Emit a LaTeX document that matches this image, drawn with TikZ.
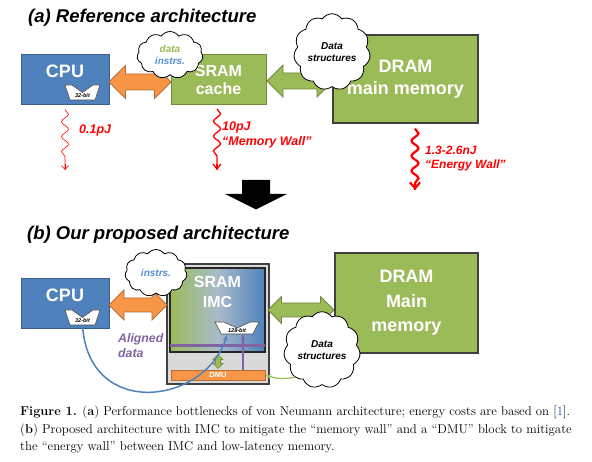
\documentclass[tikz,border=0pt]{standalone}
\usepackage{fontspec}
\setsansfont{Liberation Sans}
\usepackage{xcolor}
\usetikzlibrary{shapes.geometric, shapes.symbols, arrows.meta, decorations.pathmorphing, positioning}

\definecolor{cpublue}{HTML}{4F81BD}
\definecolor{cpuedge}{HTML}{385D8A}
\definecolor{memgreen}{HTML}{9BBB59}
\definecolor{memedge}{HTML}{71893F}
\definecolor{busorange}{HTML}{F79646}
\definecolor{busedge}{HTML}{B66D31}
\definecolor{wallred}{HTML}{FF0000}
\definecolor{alignpurple}{HTML}{8064A2}
\definecolor{instrblue}{HTML}{558ED5}
\definecolor{imcgray}{HTML}{D9D9D9}
\definecolor{imcmid}{HTML}{A9BBC9}
\definecolor{citeblue}{HTML}{1F4FD0}

\tikzstyle{title} = [anchor=west, inner sep=0pt, font=\sffamily\bfseries\itshape\fontsize{18.5}{22}\selectfont]
\tikzstyle{cpubox} = [rectangle, draw=cpuedge, fill=cpublue, line width=1pt, minimum width=88pt, minimum height=50pt]
\tikzstyle{unitname} = [text=white, inner sep=0pt, align=center, font=\sffamily\bfseries\fontsize{18}{22}\selectfont]
\tikzstyle{srambox} = [rectangle, draw=memedge, fill=memgreen, line width=1pt, text=white, align=center, font=\sffamily\bfseries\fontsize{16}{18}\selectfont]
\tikzstyle{drambox} = [rectangle, draw=black!75, fill=memgreen, line width=1.2pt, text=white, align=center, font=\sffamily\bfseries\fontsize{18}{22}\selectfont]
\tikzstyle{imcwrap} = [rectangle, draw=black!75, fill=imcgray, line width=1.2pt, minimum width=102pt, minimum height=120pt]
\tikzstyle{imcbox} = [rectangle, draw=black!85, line width=1.2pt, left color=memgreen, right color=cpublue, middle color=imcmid, minimum width=95pt, minimum height=84pt]
\tikzstyle{dmubox} = [rectangle, draw=busedge, fill=busorange, line width=0.6pt, minimum width=94pt, minimum height=10pt, inner sep=0pt, text=white, font=\sffamily\bfseries\fontsize{7.5}{8}\selectfont]
\tikzstyle{orangebus} = [fill=busorange, draw=busedge, line width=0.8pt]
\tikzstyle{greenbus} = [fill=memgreen, draw=memedge, line width=0.8pt]
\tikzstyle{note} = [cloud, cloud puffs=11, cloud puff arc=110, draw=black, fill=white, line width=0.8pt, inner sep=0pt, align=center, font=\sffamily\bfseries\itshape\fontsize{10}{12}\selectfont]
\tikzstyle{wall} = [draw=wallred, decorate, decoration={snake, amplitude=3.5pt, segment length=15pt, post length=7pt}]
\tikzstyle{walltext} = [text=wallred, anchor=west, align=left, inner sep=0pt, font=\sffamily\bfseries\itshape\fontsize{12.5}{15}\selectfont]
\tikzstyle{muxlabel} = [inner sep=0pt, font=\sffamily\bfseries\itshape\fontsize{5.5}{6}\selectfont]
\tikzstyle{caption} = [anchor=north west, align=left, inner sep=0pt, font=\fontsize{12.8}{17.2}\selectfont]

\tikzset{
  pics/mux/.style={code={
    \filldraw[fill=white, draw=black!70, line width=0.6pt]
      (-17.5,-7.5) -- (-10.5,-7.5) -- (0,0) -- (10.5,-7.5) -- (17.5,-7.5)
      -- (12.5,7.5) -- (-12.5,7.5) -- cycle;
    \node[muxlabel] (-label) at (0,3) {#1};
    \coordinate (-bot) at (0,7.5);
  }},
  % length, head width, shaft width
  pics/busarrow/.style n args={3}{code={
    \path[pic actions] (-#1/2,0) -- (-#1/2+#2/2,-#2/2) -- (-#1/2+#2/2,-#3/2)
      -- (#1/2-#2/2,-#3/2) -- (#1/2-#2/2,-#2/2) -- (#1/2,0) -- (#1/2-#2/2,#2/2)
      -- (#1/2-#2/2,#3/2) -- (-#1/2+#2/2,#3/2) -- (-#1/2+#2/2,#2/2) -- cycle;
  }}
}

\begin{document}
\begin{tikzpicture}[x=1pt, y=-1pt]
  \useasboundingbox (0,0) rectangle (592,462);

  % (a) reference architecture
  \node[title] (titleA) at (28,18) {(a) Reference architecture};

  \node[cpubox] (cpuA) at (65,80) {};
  \node[unitname] (cpuAname) at ([yshift=-17pt]cpuA.north) {CPU};
  \pic (muxA) at (82.5,92.5) {mux={32-bit}};
  \node[srambox, minimum width=95pt, minimum height=50pt] (sramA) at (218.5,79.5) {SRAM\\cache};
  \node[drambox, minimum width=145pt, minimum height=88pt] (dramA) at (405.5,79) {DRAM\\main memory};

  \pic[orangebus] (busA) at (140,82) {busarrow={62}{33}{16}};
  \pic[greenbus] (linkA) at (300,81) {busarrow={66}{32}{16}};

  \node[note, minimum width=66pt, minimum height=44pt] (noteA) at (170,55)
    {\textcolor{memgreen}{data}\\\textcolor{instrblue}{instrs.}};
  \node[note, minimum width=71pt, minimum height=50pt] (structA) at (332,52) {Data\\structures};

  \coordinate (wallcpu) at (65,170);
  \coordinate (wallsram) at (217,170);
  \coordinate (walldram) at (415,190);
  \draw[wall, line width=0.6pt] ([yshift=-4pt]cpuA.south) -- (wallcpu);
  \draw[wallred, line width=0.6pt, -{Straight Barb[length=4pt, width=7pt]}] ([yshift=6pt]wallcpu) -- (wallcpu);
  \draw[wall, line width=1.3pt] ([xshift=-1.5pt, yshift=-4pt]sramA.south) -- (wallsram);
  \draw[wallred, line width=1.3pt, -{Straight Barb[length=5pt, width=8pt]}] ([yshift=6pt]wallsram) -- (wallsram);
  \draw[wall, line width=2.2pt] ([xshift=9.5pt, yshift=-5pt]dramA.south) -- (walldram);
  \draw[wallred, line width=2.2pt, -{Straight Barb[length=6pt, width=10pt]}] ([yshift=6pt]walldram) -- (walldram);
  \node[walltext] (costcpu) at (79,130) {0.1pJ};
  \node[walltext] (costsram) at (222,134.5) {10pJ\\“Memory Wall”};
  \node[walltext, font=\sffamily\bfseries\itshape\fontsize{12}{14}\selectfont] (costdram) at (425,158.5) {1.3-2.6nJ\\“Energy Wall”};

  % big arrow from (a) to (b)
  \fill[black] (242,180) -- (270,180) -- (270,194) -- (287,194) -- (256,209.5) -- (225,194) -- (242,194) -- cycle;

  % (b) proposed architecture
  \node[title] (titleB) at (27,235) {(b) Our proposed architecture};

  \node[cpubox] (cpuB) at (65,304) {};
  \node[unitname] (cpuBname) at ([yshift=-17pt]cpuB.north) {CPU};
  \pic (muxB) at (82.5,317.5) {mux={32-bit}};

  \node[imcwrap] (imcwrap) at (218,324) {};
  \node[imcbox] (imc) at (217.5,310) {};
  \node[unitname, font=\sffamily\bfseries\fontsize{16}{20}\selectfont] (imcname) at (217.5,292) {SRAM\\IMC};
  \draw[alignpurple, line width=3pt] ([xshift=1pt, yshift=7pt]imc.south west) -- ([xshift=-1pt, yshift=7pt]imc.south east);
  \pic[xscale=1.26, yscale=0.8] (muxW) at (237,328) {mux={128-bit}};
  \node[dmubox] (dmu) at (218,375) {DMU};
  \pic[greenbus, line width=0.6pt, rotate=90] (dmulink) at (218,361.5) {busarrow={14}{10}{5}};

  \coordinate (alignin) at (243,334);
  \draw[alignpurple, line width=1.2pt, -{Stealth[length=6pt]}] (alignin |- dmu.north) -- (alignin);
  \draw[cpublue, line width=1.5pt, -{Stealth[length=6pt]}] (muxB-bot) .. controls (88,420) and (205,405) .. (227,335);

  \node[text=alignpurple, anchor=west, align=left, inner sep=0pt, font=\sffamily\bfseries\itshape\fontsize{12.3}{15}\selectfont]
    (aligned) at (118,345.5) {Aligned\\data};

  \pic[orangebus] (busB) at (138,305) {busarrow={58}{30}{14}};
  \pic[greenbus] (linkB) at (301,310) {busarrow={66}{27}{14}};
  \node[drambox, minimum width=143pt, minimum height=100pt, font=\sffamily\bfseries\fontsize{18}{24.5}\selectfont] (dramB) at (406.5,303) {DRAM\\Main\\memory};

  \node[note, minimum width=62pt, minimum height=37pt] (noteB) at (156,273) {\textcolor{instrblue}{instrs.}};
  \node[note, minimum width=68pt, minimum height=40pt] (structB) at (322,350) {Data\\structures};
  \draw[memgreen, line width=1.2pt, -{Stealth[length=6pt]}] (structB.south west) to[bend left=15] (dmu.east);

  % caption
  \node[caption] (caption) at (20,406) {%
    \textbf{Figure 1.} (\textbf{a}) Performance bottlenecks of von Neumann architecture; energy costs are based on [\textcolor{citeblue}{1}].\\
    (\textbf{b}) Proposed architecture with IMC to mitigate the “memory wall” and a “DMU” block to mitigate\\
    the “energy wall” between IMC and low-latency memory.};
\end{tikzpicture}
\end{document}
